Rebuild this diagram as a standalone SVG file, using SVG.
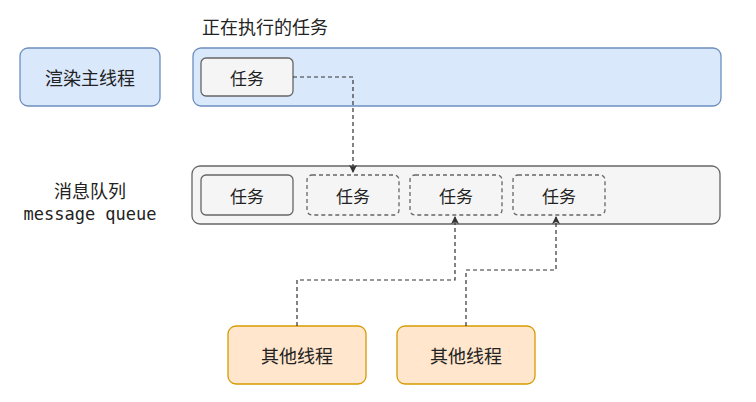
<svg xmlns="http://www.w3.org/2000/svg" width="756" height="402" viewBox="0 0 756 402">
<style>
text{font-family:"Noto Sans CJK SC","Noto Sans",sans-serif;font-size:17px;fill:#222;text-anchor:middle;dominant-baseline:central}
.big{font-size:18px}
.blue{fill:#dae8fc;stroke:#6c8ebf;stroke-width:1.3}
.gray{fill:#f5f5f5;stroke:#666;stroke-width:1.3}
.dash{fill:#f5f5f5;stroke:#666;stroke-width:1.3;stroke-dasharray:4 3}
.orange{fill:#ffe6cc;stroke:#d79b00;stroke-width:1.3}
.conn{fill:none;stroke:#333;stroke-width:1.2;stroke-dasharray:4 3;marker-end:url(#ah)}
</style>
<defs><marker id="ah" markerWidth="8" markerHeight="8" refX="7" refY="4" orient="auto" markerUnits="userSpaceOnUse"><path d="M0,0 L8,4 L0,8 L2,4 Z" fill="#333"/></marker></defs>
<rect width="756" height="402" fill="#fff"/>
<g id="main-thread"><rect class="blue" x="20" y="48" width="140" height="58" rx="8"/><text class="big" x="90" y="77">渲染主线程</text></g>
<g id="executing"><text class="big" x="265" y="26">正在执行的任务</text><rect class="blue" x="193" y="48" width="528" height="58" rx="8"/></g>
<g id="running-task"><rect class="gray" x="201" y="58" width="92" height="38" rx="5"/><text x="247" y="77">任务</text></g>
<g id="queue-label"><text class="big" x="90" y="190">消息队列</text><text x="90" y="214" style="font-family:'DejaVu Sans Mono',monospace;font-size:17px">message queue</text></g>
<g id="queue"><rect class="gray" x="192" y="166" width="528" height="58" rx="8"/></g>
<g id="q1"><rect class="gray" x="201" y="175" width="92" height="40" rx="5"/><text x="247" y="195">任务</text></g>
<g id="q2"><rect class="dash" x="307" y="175" width="92" height="40" rx="5"/><text x="353" y="195">任务</text></g>
<g id="q3"><rect class="dash" x="410" y="175" width="92" height="40" rx="5"/><text x="456" y="195">任务</text></g>
<g id="q4"><rect class="dash" x="513" y="175" width="92" height="40" rx="5"/><text x="559" y="195">任务</text></g>
<g id="other1"><rect class="orange" x="228" y="326" width="138" height="58" rx="8"/><text class="big" x="297" y="355">其他线程</text></g>
<g id="other2"><rect class="orange" x="397" y="326" width="138" height="58" rx="8"/><text class="big" x="466" y="355">其他线程</text></g>
<g id="connectors">
<path class="conn" d="M293,77 H353 V172"/>
<path class="conn" d="M297,326 V280 H455 V217"/>
<path class="conn" d="M466,326 V270 H556 V217"/>
</g>
</svg>
